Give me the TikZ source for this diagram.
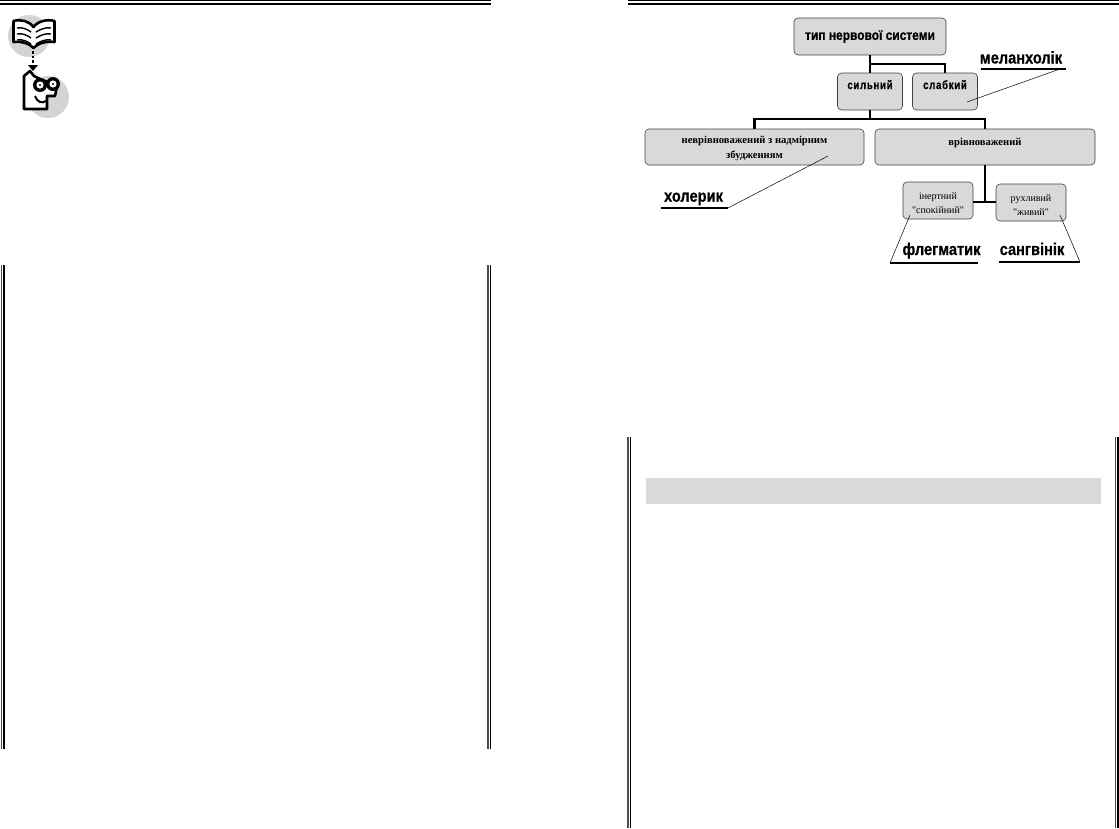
\documentclass[tikz,border=0pt]{standalone}
\usepackage{fontspec}
\setmainfont{Liberation Serif}
\newfontfamily\plainfont{Liberation Serif}
\newfontfamily\headfont[FakeStretch=0.86,BoldFeatures={FakeBold=0.6}]{Liberation Sans}
\newfontfamily\widefont[FakeStretch=0.8,LetterSpace=6,BoldFeatures={FakeBold=0.4}]{Liberation Sans}
\definecolor{boxgray}{HTML}{D9D9D9}
\definecolor{icongray}{HTML}{D4D4D4}
\tikzset{
  box/.style={draw=black!75,fill=boxgray,rounded corners=4pt,inner sep=0pt,line width=0.6pt,align=center},
  link/.style={draw=black,line width=2.6pt},
  leader/.style={draw=black,line width=0.5pt},
  under/.style={draw=black,line width=2.4pt},
  type/.style={font=\headfont\fontsize{17}{17}\selectfont\bfseries,inner sep=0pt,anchor=base},
  ink/.style={draw=black,line width=2.6pt,line join=round}
}
\begin{document}
\begin{tikzpicture}[x=1pt,y=-1pt]
    \useasboundingbox (0,0) rectangle (1119,828);

    % page rules
    \foreach \xa/\xb in {0/491,628/1119} {
      \draw[line width=1pt] (\xa,0.7) -- (\xb,0.7);
      \draw[line width=1.6pt] (\xa,3.8) -- (\xb,3.8);
    }
    \foreach \xa/\ya/\yb in {1.5/265/749,488/265/749,628/437/828,1115.5/437/828} {
      \draw[line width=1.7pt,black!70] (\xa,\ya) -- (\xa,\yb);
      \draw[line width=1.5pt] (\xa+2.7,\ya) -- (\xa+2.7,\yb);
    }
    \fill[boxgray] (646,478) rectangle (1101,504);

    % icons
    \fill[icongray] (29,36) circle (21);
    \fill[icongray] (48,97) circle (21);
    \draw[ink,fill=white] (13.5,21) .. controls (21,19) and (29,21) .. (33.5,27)
      .. controls (38,21) and (47,19) .. (54.5,21) -- (54.5,42)
      .. controls (46,41) and (38,43) .. (33.5,48)
      .. controls (29,43) and (21,41) .. (13.5,42) -- cycle;
    \foreach \ya in {0,6,12} {
      \draw[line width=1.4pt] (17,28+\ya) .. controls (22,27+\ya) and (27,29+\ya) .. (31,32+\ya);
      \draw[line width=1.4pt] (51,28+\ya) .. controls (46,27+\ya) and (41,29+\ya) .. (36,32+\ya);
    }
    \draw[line width=2pt,dash pattern=on 2.5pt off 2pt] (33,51) -- (33,65);
    \fill (28,65) -- (38,65) -- (33,71) -- cycle;
    \draw[ink,fill=white] (30,71) -- (24,76) -- (24,109) -- (47,109) -- (47,96) -- (55,96) -- (57,86) -- (38,78) -- (34,76) -- cycle;
    \draw[line width=2pt] (35,96) .. controls (37,102) and (42,104) .. (46,101);
    \fill (40,85) circle (7);
    \fill (53,84) circle (7);
    \fill[white] (40,85) circle (3.6);
    \fill[white] (53,84) circle (3.6);
    \fill (40,85) circle (1.2);
    \fill (53,84) circle (1.2);

    % boxes
    \node[box,minimum width=152pt,minimum height=37pt,font=\headfont\fontsize{13.9}{14}\selectfont\bfseries] (tip) at (870,36.5) {тип нервової системи};
    \node[box,minimum width=65pt,font=\widefont\fontsize{12}{12}\selectfont\bfseries,text height=16pt,text depth=21pt] (silnyi) at (870,91.5) {сильний};
    \node[box,minimum width=65pt,font=\widefont\fontsize{12}{12}\selectfont\bfseries,text height=16pt,text depth=21pt] (slabkyi) at (945,91.5) {слабкий};
    \node[box,minimum width=219pt,minimum height=36pt,font=\fontsize{10.6}{14.5}\selectfont\bfseries] (nevr) at (754.5,147) {\rule{0pt}{10pt}неврівноважений з надмірним\\збудженням};
    \node[box,minimum width=220pt,minimum height=36pt,font=\fontsize{10.6}{14}\selectfont\bfseries,text height=16pt,text depth=20pt] (vrivn) at (985,147) {врівноважений};
    \node[box,minimum width=70pt,minimum height=37pt,font=\plainfont\fontsize{10}{14}\selectfont] (inert) at (938,200.5) {\rule{0pt}{12pt}інертний\\"спокійний"};
    \node[box,minimum width=70pt,minimum height=37pt,font=\plainfont\fontsize{10}{14}\selectfont] (ruhl) at (1031,202.5) {\rule{0pt}{12pt}рухливий\\"живий"};

    % type labels
    \node[type] (melan) at (1021,63.5) {меланхолік};
    \node[type] (holer) at (693.5,201.7) {холерик};
    \node[type] (fleg) at (941.5,255) {флегматик};
    \node[type] (sang) at (1032,255) {сангвінік};

    \coordinate (tipj) at (870,64);
    \coordinate (silnyij) at (870,119);
    \coordinate (vrivnj) at (985,202);

    \coordinate (melanl) at (981,69);
    \coordinate (melanr) at (1066,69);
    \coordinate (melant) at (1060,69);
    \coordinate (melanin) at (967,102);
    \coordinate (holerl) at (661,208);
    \coordinate (holerr) at (728,208);
    \coordinate (holerin) at (828,156);
    \coordinate (flegl) at (890,263);
    \coordinate (flegr) at (978,263);
    \coordinate (flegin) at (910,215);
    \coordinate (sangl) at (999,262);
    \coordinate (sangr) at (1080,262);
    \coordinate (sangin) at (1060,215);

    \path[-] (tip.south) edge[link] (silnyi.north);
    \draw[link] (tipj) -| (slabkyi.north);
    \path[-] (silnyi.south) edge[link] (silnyij);
    \draw[link] (nevr.north) |- (silnyij) -| (vrivn.north);
    \path[-] (vrivn.south) edge[link] (vrivnj);
    \path[-] (inert.east |- vrivnj) edge[link] (ruhl.west |- vrivnj);

    \path[-] (melanl) edge[under] (melanr);
    \path[-] (holerl) edge[under] (holerr);
    \path[-] (flegl) edge[under] (flegr);
    \path[-] (sangl) edge[under] (sangr);

    \path[-] (melant) edge[leader] (melanin);
    \path[-] (holerr) edge[leader] (holerin);
    \path[-] (flegl) edge[leader] (flegin);
    \path[-] (sangr) edge[leader] (sangin);
  \end{tikzpicture}
\end{document}
